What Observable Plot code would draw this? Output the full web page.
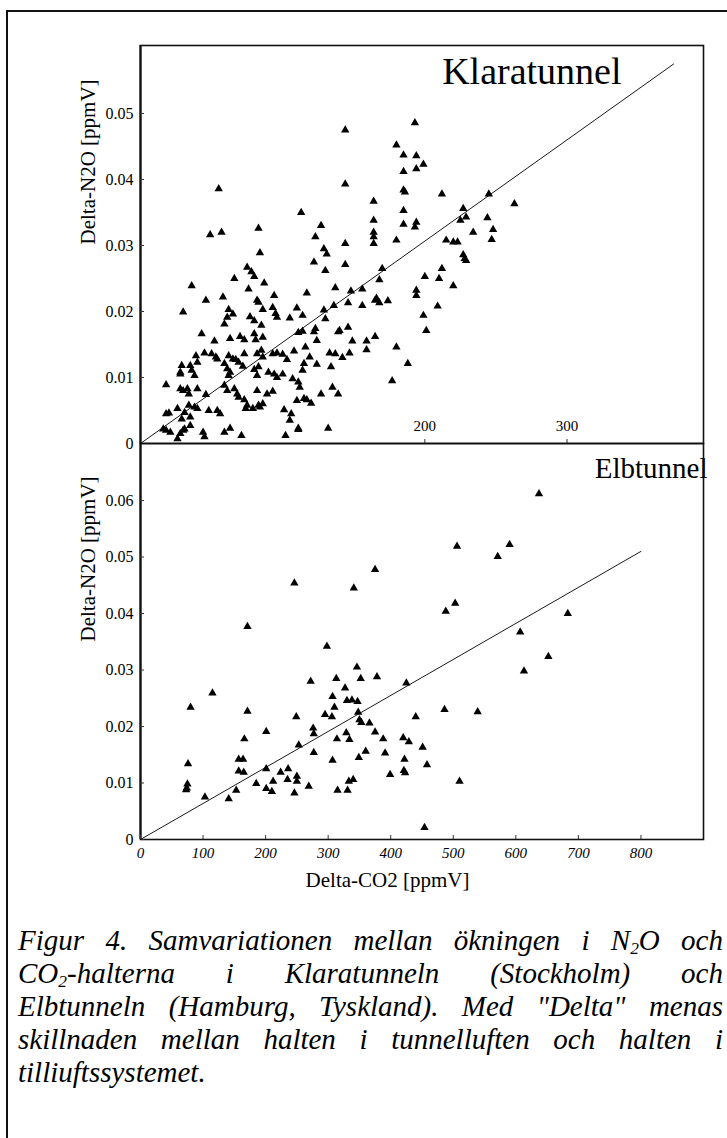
<!DOCTYPE html>
<html>
<head>
<meta charset="utf-8">
<script src="https://cdn.jsdelivr.net/npm/d3@7"></script>
<script src="https://cdn.jsdelivr.net/npm/@observablehq/plot@0.6"></script>
<style>
  html, body { margin: 0; padding: 0; background: #fff; }
  body { width: 727px; height: 1138px; overflow: hidden; position: relative; font-family: "Liberation Serif", serif; }
  #frame { position: absolute; left: 6px; top: 10px; width: 800px; height: 1200px; border-left: 2px solid #111; border-top: 2px solid #111; }
  #top { position: absolute; left: 0; top: 0; }
  #bot { position: absolute; left: 0; top: 443px; }
  #cap { position: absolute; left: 18px; top: 924px; width: 705px; font-style: italic; font-size: 29px; line-height: 33px; color: #000; }
  #cap div { text-align: justify; text-align-last: justify; }
  #cap div.last { text-align-last: left; }
  #cap sub { font-size: 60%; vertical-align: -0.25em; line-height: 0; }
  svg { overflow: visible; }
</style>
</head>
<body>
<div id="frame"></div>
<div id="top"></div>
<div id="bot"></div>
<div id="cap">
  <div>Figur 4. Samvariationen mellan ökningen i N<sub>2</sub>O och</div>
  <div>CO<sub>2</sub>-halterna i Klaratunneln (Stockholm) och</div>
  <div>Elbtunneln (Hamburg, Tyskland). Med "Delta" menas</div>
  <div>skillnaden mellan halten i tunnelluften och halten i</div>
  <div class="last">tilliuftssystemet.</div>
</div>
<script>
// ---------- Data: Klaratunnel (top panel) ----------
const klaraCO2 = [
 193,144,180,185,194,199,194,185,144,185,186,212,245,263,164,227,185,229,225,244,
 164,194,193,185,248,234,164,164,164,180,144,247,215,220,223,227,228,229,127,123,
 129,131,122,130,144,170,212,113,200,210,168,220,194,194,156,148,137,117,166,168,
 165,174,146,156,136,209,129,114,130,199,201,140,146,139,123,122,124,114,111,149,
 159,159,165,180,116,119,115,114,133,137,142,147,124,134,188,177,111,135,139,127,
 115,117,120,132,111,
 55,49,57,83,84,36,46,58,66,75,78,80,87,94,76,30,62,65,61,77,
 80,86,93,95,96,82,83,59,85,43,63,70,73,80,81,86,52,45,50,53,
 54,62,65,67,73,82,85,86,93,96,39,40,29,28,28,35,36,38,59,61,
 63,62,69,72,80,83,82,90,94,96,18,28,30,33,34,40,46,59,61,66,
 68,69,73,75,74,82,89,93,86,84,18,20,26,34,38,40,31,29,35,18,
 21,16,26,35,30,44,45,54,56,59,63,71,102,111,105,106,101,48,79,83,
 110,28,31,100,103,108,105,110,100,107,112
];
const klaraN2O = [
 0.0486,0.0475,0.0452,0.0437,0.0436,0.0423,0.0416,0.0412,0.0393,0.0384,0.0381,0.0378,0.0378,0.0363,0.0367,0.0356,0.0353,0.0343,0.0338,0.0342,
 0.0338,0.0335,0.0328,0.0332,0.0324,0.0320,0.0320,0.0313,0.0303,0.0308,0.0303,0.0309,0.0308,0.0305,0.0305,0.0286,0.0280,0.0277,0.0330,0.0313,
 0.0295,0.0287,0.0275,0.0262,0.0271,0.0265,0.0265,0.0350,0.0253,0.0250,0.0248,0.0239,0.0232,0.0224,0.0234,0.0231,0.0236,0.0228,0.0220,0.0213,
 0.0217,0.0216,0.0213,0.0209,0.0209,0.0208,0.0202,0.0194,0.0189,0.0194,0.0171,0.0171,0.0176,0.0169,0.0174,0.0169,0.0156,0.0170,0.0168,0.0155,
 0.0155,0.0142,0.0162,0.0146,0.0146,0.0131,0.0121,0.0111,0.0137,0.0136,0.0130,0.0137,0.0120,0.0116,0.0121,0.0095,0.0093,0.0085,0.0075,0.0075,
 0.0068,0.0066,0.0061,0.0023,0.0023,
 0.0386,0.0316,0.0320,0.0326,0.0289,0.0239,0.0217,0.0222,0.0250,0.0267,0.0260,0.0253,0.0243,0.0224,0.0234,0.0199,0.0203,0.0196,0.0191,0.0192,
 0.0186,0.0203,0.0206,0.0197,0.0191,0.0217,0.0214,0.0181,0.0179,0.0166,0.0159,0.0162,0.0157,0.0166,0.0157,0.0161,0.0155,0.0137,0.0136,0.0131,
 0.0128,0.0133,0.0128,0.0127,0.0136,0.0136,0.0141,0.0131,0.0136,0.0137,0.0133,0.0123,0.0118,0.0108,0.0105,0.0118,0.0111,0.0103,0.0121,0.0113,
 0.0108,0.0103,0.0123,0.0117,0.0112,0.0116,0.0103,0.0108,0.0105,0.0100,0.0089,0.0083,0.0080,0.0083,0.0075,0.0083,0.0074,0.0088,0.0080,0.0083,
 0.0075,0.0070,0.0066,0.0058,0.0053,0.0080,0.0075,0.0079,0.0060,0.0055,0.0045,0.0046,0.0053,0.0058,0.0055,0.0053,0.0047,0.0037,0.0040,0.0020,
 0.0017,0.0022,0.0007,0.0027,0.0020,0.0017,0.0010,0.0050,0.0045,0.0017,0.0023,0.0012,0.0012,0.0021,0.0035,0.0045,0.0051,0.0050,0.0053,0.0058,
 0.0065,0.0015,0.0022,0.0135,0.0127,0.0140,0.0190,0.0205,0.0105,0.0098,0.0085
];
const klaraFitCO2 = [0, 375];
const klaraFitN2O = [0, 0.0575];

// ---------- Data: Elbtunnel (bottom panel) ----------
const elbCO2 = [
 246,341,375,171,298,115,80,171,272,313,346,352,378,307,327,330,338,347,310,295,
 306,348,350,353,366,375,276,277,329,334,314,277,253,249,201,166,157,164,157,165,
 201,224,236,235,250,250,246,269,307,315,333,340,331,349,360,212,201,210,185,153,
 141,103,76,75,74,73,
 506,590,571,503,488,683,607,652,613,425,486,539,440,388,420,429,451,391,422,458,
 421,423,399,510,454,637
];
const elbN2O = [
 0.0454,0.0445,0.0478,0.0377,0.0342,0.0259,0.0234,0.0227,0.0280,0.0285,0.0305,0.0285,0.0288,0.0253,0.0268,0.0246,0.0247,0.0244,0.0234,0.0221,
 0.0217,0.0225,0.0212,0.0207,0.0206,0.0190,0.0197,0.0187,0.0189,0.0177,0.0178,0.0154,0.0167,0.0217,0.0191,0.0178,0.0142,0.0142,0.0121,0.0119,
 0.0125,0.0119,0.0125,0.0106,0.0112,0.0103,0.0082,0.0094,0.0140,0.0087,0.0103,0.0106,0.0087,0.0145,0.0156,0.0103,0.0090,0.0085,0.0099,0.0087,
 0.0072,0.0075,0.0134,0.0098,0.0091,0.0088,
 0.0519,0.0522,0.0501,0.0418,0.0404,0.0400,0.0367,0.0324,0.0298,0.0277,0.0230,0.0226,0.0217,0.0178,0.0180,0.0173,0.0163,0.0153,0.0142,0.0132,
 0.0122,0.0118,0.0115,0.0103,0.0021,0.0612
];
const elbFitCO2 = [0, 800];
const elbFitN2O = [0, 0.0510];

// ---------- Axis ticks and labels ----------
const klaraXTicks = [200, 300];
const klaraYTicks = [0, 0.01, 0.02, 0.03, 0.04, 0.05];
const elbXTicks = [0, 100, 200, 300, 400, 500, 600, 700, 800];
const elbYTicks = [0, 0.01, 0.02, 0.03, 0.04, 0.05, 0.06];
const yLabel = "Delta-N2O [ppmV]";
const xLabel = "Delta-CO2 [ppmV]";
const klaraTitle = "Klaratunnel";
const elbTitle = "Elbtunnel";

const klaraPts = klaraCO2.map((x, i) => ({x, y: klaraN2O[i]}));
const elbPts = elbCO2.map((x, i) => ({x, y: elbN2O[i]}));
const klaraFit = klaraFitCO2.map((x, i) => ({x, y: klaraFitN2O[i]}));
const elbFit = elbFitCO2.map((x, i) => ({x, y: elbFitN2O[i]}));
const fmtY = d => d === 0 ? "0" : d.toFixed(2);

const common = {
  width: 727,
  marginLeft: 140,
  marginRight: 24,
  style: {fontFamily: "Liberation Serif, serif", fontSize: "17px", color: "#000", background: "transparent", overflow: "visible"}
};

// Top panel
const topH = 445, topMT = 45, topMB = 2;
const topPlot = Plot.plot({
  ...common,
  height: topH, marginTop: topMT, marginBottom: topMB,
  x: {domain: [0, 396], axis: null},
  y: {domain: [0, 0.0603], axis: null},
  marks: [
    Plot.frame({stroke: "#111", strokeWidth: 1.6}),
    Plot.ruleX([0], {stroke: "#111", strokeWidth: 2.2}),
    Plot.tickY(klaraYTicks, {y: d => d, stroke: "#333", insetRight: 727 - 140 - 24 - 4}),
    Plot.text(klaraYTicks, {y: d => d, text: fmtY, frameAnchor: "left", textAnchor: "end", dx: -7, fontSize: 16}),
    Plot.tickX(klaraXTicks, {x: d => d, stroke: "#333", insetTop: topH - topMT - topMB - 4}),
    Plot.text(klaraXTicks, {x: d => d, text: d => String(d), frameAnchor: "bottom", dy: -13, fontSize: 15}),
    Plot.line(klaraFit, {x: "x", y: "y", stroke: "#000", strokeWidth: 0.9}),
    Plot.dot(klaraPts, {x: "x", y: "y", symbol: "triangle", r: 3.1, fill: "#000", stroke: "none"}),
    Plot.text([klaraTitle], {frameAnchor: "top-right", textAnchor: "end", lineAnchor: "top", dx: -82, dy: 12, fontSize: 38}),
    Plot.text([yLabel], {frameAnchor: "left", rotate: -90, dx: -52, fontSize: 21})
  ]
});
document.getElementById("top").appendChild(topPlot);

// Bottom panel
const botH = 456, botMT = 0, botMB = 60;
const botPlot = Plot.plot({
  ...common,
  height: botH, marginTop: botMT, marginBottom: botMB,
  x: {domain: [0, 900], axis: null},
  y: {domain: [0, 0.0701], axis: null},
  marks: [
    Plot.frame({stroke: "#111", strokeWidth: 1.6}),
    Plot.ruleX([0], {stroke: "#111", strokeWidth: 2.2}),
    Plot.tickY(elbYTicks, {y: d => d, stroke: "#333", insetRight: 727 - 140 - 24 - 4}),
    Plot.text(elbYTicks, {y: d => d, text: fmtY, frameAnchor: "left", textAnchor: "end", dx: -7, fontSize: 16}),
    Plot.tickX(elbXTicks, {x: d => d, stroke: "#333", insetTop: botH - botMT - botMB - 4}),
    Plot.text(elbXTicks, {x: d => d, text: d => String(d), frameAnchor: "bottom", dy: 18, fontSize: 15, fontStyle: "italic"}),
    Plot.line(elbFit, {x: "x", y: "y", stroke: "#000", strokeWidth: 0.9}),
    Plot.dot(elbPts, {x: "x", y: "y", symbol: "triangle", r: 3.1, fill: "#000", stroke: "none"}),
    Plot.text([elbTitle], {frameAnchor: "top-right", textAnchor: "end", lineAnchor: "top", dx: 4, dy: 14, fontSize: 29}),
    Plot.text([yLabel], {frameAnchor: "left", rotate: -90, dx: -52, fontSize: 21}),
    Plot.text([xLabel], {frameAnchor: "bottom", dx: 387 - (140 + (727 - 164) / 2), dy: 47, fontSize: 21})
  ]
});
document.getElementById("bot").appendChild(botPlot);
</script>
</body>
</html>
